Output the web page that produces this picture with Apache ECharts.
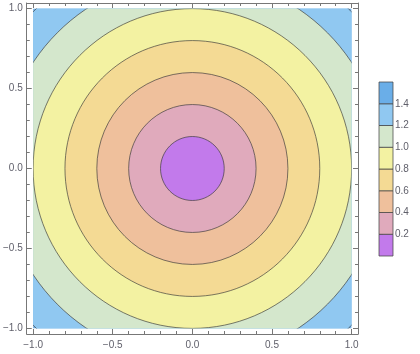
<!DOCTYPE html>
<html><head><meta charset="utf-8">
<script src="https://cdn.jsdelivr.net/npm/echarts@6/dist/echarts.min.js"></script>
<style>html,body{margin:0;padding:0;background:#fff}#c{width:420px;height:354px}</style>
</head><body><div id="c"></div>
<script>
// Contour levels of f(x,y) = sqrt(x^2 + y^2)
const levels = [0.2, 0.4, 0.6, 0.8, 1.0, 1.2, 1.4];
// band colours: below 0.2, 0.2-0.4, ..., 1.2-1.4, above 1.4
const bandColors = ['#c27aeb', '#e0aabc', '#efc09c', '#f4da94', '#f3f2a2', '#d4e7cc', '#90c8f1', '#6aaee8'];
const center = [0, 0];
const domainX = [-1, 1];
const domainY = [-1, 1];
const majorTicks = [-1, -0.5, 0, 0.5, 1];
const minorTicks = [-0.9, -0.8, -0.7, -0.6, -0.4, -0.3, -0.2, -0.1, 0.1, 0.2, 0.3, 0.4, 0.6, 0.7, 0.8, 0.9];
const legendRange = [0, 1.6];
const legendBounds = [legendRange[0]].concat(levels, [legendRange[1]]);

const frameColor = '#777777';
const labelColor = '#5f5f6a';
const fmt = v => (v < 0 ? '\u2212' : '') + Math.abs(v).toFixed(1);

function xAx(pos, ticks, len, labels, line) {
  return {
    type: 'value', gridIndex: 0, position: pos, min: -1.04, max: 1.04,
    axisLine: { show: line, onZero: false, lineStyle: { color: frameColor, width: 1 } },
    axisTick: { show: true, inside: true, length: len, customValues: ticks, lineStyle: { color: frameColor } },
    axisLabel: { show: labels, customValues: ticks, formatter: fmt, color: labelColor, fontSize: 10, fontFamily: 'Liberation Sans', margin: 6 },
    splitLine: { show: false }
  };
}
function yAx(pos, ticks, len, labels, line) {
  return {
    type: 'value', gridIndex: 0, position: pos, min: -1.035, max: 1.035,
    axisLine: { show: line, onZero: false, lineStyle: { color: frameColor, width: 1 } },
    axisTick: { show: true, inside: true, length: len, customValues: ticks, lineStyle: { color: frameColor } },
    axisLabel: { show: labels, customValues: ticks, formatter: fmt, color: labelColor, fontSize: 10, fontFamily: 'Liberation Sans', margin: 4 },
    splitLine: { show: false }
  };
}

const chart = echarts.init(document.getElementById('c'), null, { renderer: 'canvas' });
chart.setOption({
  animation: false,
  backgroundColor: '#ffffff',
  grid: [
    { left: 24, top: 3, width: 334, height: 331 },
    { left: 379, top: 82, width: 14, height: 174 }
  ],
  xAxis: [
    xAx('bottom', majorTicks, 5, true, true),
    xAx('bottom', minorTicks, 3, false, false),
    xAx('top', majorTicks, 5, false, true),
    xAx('top', minorTicks, 3, false, false),
    { type: 'value', gridIndex: 1, min: 0, max: 1, show: false }
  ],
  yAxis: [
    yAx('left', majorTicks, 5, true, true),
    yAx('left', minorTicks, 3, false, false),
    yAx('right', majorTicks, 5, false, true),
    yAx('right', minorTicks, 3, false, false),
    {
      type: 'value', gridIndex: 1, position: 'right', min: legendRange[0], max: legendRange[1],
      axisLine: { show: false },
      axisTick: { show: true, inside: false, length: 4, customValues: levels, lineStyle: { color: frameColor } },
      axisLabel: { show: true, customValues: levels, formatter: v => v.toFixed(1), color: labelColor, fontSize: 10, fontFamily: 'Liberation Sans', margin: 2 },
      splitLine: { show: false }
    }
  ],
  series: [
    {
      type: 'custom', coordinateSystem: 'cartesian2d', xAxisIndex: 0, yAxisIndex: 0,
      data: [0], clip: false, silent: true,
      renderItem: function (params, api) {
        const tl = api.coord([domainX[0], domainY[1]]);
        const br = api.coord([domainX[1], domainY[0]]);
        const c = api.coord(center);
        const rectShape = { x: tl[0], y: tl[1], width: br[0] - tl[0], height: br[1] - tl[1] };
        const children = [{ type: 'rect', shape: rectShape, style: { fill: bandColors[levels.length] } }];
        for (let i = levels.length - 1; i >= 0; i--) {
          const rx = api.size([levels[i], 0])[0];
          const ry = api.size([0, levels[i]])[1];
          children.push({
            type: 'ellipse',
            shape: { cx: c[0], cy: c[1], rx: rx, ry: ry },
            style: { fill: bandColors[i], stroke: 'rgba(55,55,55,0.65)', lineWidth: 1 }
          });
        }
        return { type: 'group', children: children, clipPath: { type: 'rect', shape: rectShape } };
      }
    },
    {
      type: 'custom', coordinateSystem: 'cartesian2d', xAxisIndex: 4, yAxisIndex: 4,
      data: bandColors.map((c, i) => i), clip: false, silent: true,
      renderItem: function (params, api) {
        const i = api.value(0);
        const p1 = api.coord([0, legendBounds[i + 1]]);
        const p2 = api.coord([1, legendBounds[i]]);
        return {
          type: 'rect',
          shape: { x: p1[0], y: p1[1], width: p2[0] - p1[0], height: p2[1] - p1[1] },
          style: { fill: bandColors[i], stroke: 'rgba(70,70,70,0.75)', lineWidth: 1 }
        };
      }
    }
  ]
});
</script>
</body></html>
